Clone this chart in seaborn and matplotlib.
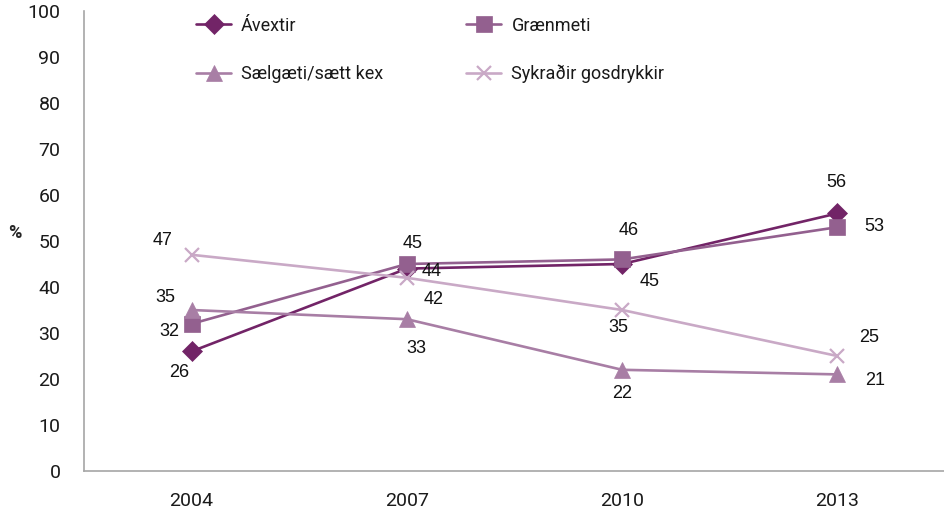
import numpy as np
import pandas as pd
import matplotlib
matplotlib.use("Agg")
import matplotlib.pyplot as plt
import seaborn as sns

# Data
years = ["2004", "2007", "2010", "2013"]
avextir = [26, 44, 45, 56]
graenmeti = [32, 45, 46, 53]
saelgaeti = [35, 33, 22, 21]
gosdrykkir = [47, 42, 35, 25]

series_names = ["Ávextir", "Grænmeti", "Sælgæti/sætt kex", "Sykraðir gosdrykkir"]
series_values = [avextir, graenmeti, saelgaeti, gosdrykkir]
colors = ["#722467", "#93608f", "#a87ea5", "#c9a9c6"]
markers = ["D", "s", "^", "x"]
marker_sizes = [10, 11, 11, 10]

# label offsets in pixels (dx, dy) per series / point
label_offsets = [
    [(-12, -21), (25, -3), (28, -17), (-1, 31)],
    [(-22, -8), (6, 21), (7, 29), (37, 1)],
    [(-26, 13), (9, -29), (0, -24), (38, -6)],
    [(-29, 14), (27, -22), (-4, -18), (32, 19)],
]

rows = []
for name, vals in zip(series_names, series_values):
    for i, v in enumerate(vals):
        rows.append({"pos": i, "year": years[i], "value": v, "series": name})
df = pd.DataFrame(rows)

sns.set_style("white")
plt.rcParams["font.family"] = ["Roboto", "DejaVu Sans"]

fig = plt.figure(figsize=(9.45, 5.13), dpi=100)
ax = fig.add_axes([84 / 945, 1 - 471 / 513, 1 - 84 / 945, (471 - 11) / 513])

for name, c, m, ms in zip(series_names, colors, markers, marker_sizes):
    sub = df[df["series"] == name]
    sns.lineplot(data=sub, x="pos", y="value", ax=ax, color=c, marker=m,
                 markersize=ms, markeredgecolor=c,
                 markeredgewidth=1.6 if m == "x" else 0.5,
                 linewidth=1.9, label=name)

for vals, offs in zip(series_values, label_offsets):
    for i, (v, (dx, dy)) in enumerate(zip(vals, offs)):
        ax.annotate(str(v), (i, v), xytext=(dx, dy), textcoords="offset pixels",
                    ha="center", va="center", fontsize=13,
                    family=["Liberation Sans", "DejaVu Sans"], color="#111111")

ax.set_xlim(-0.5, 3.5)
ax.set_ylim(0, 100)
ax.set_yticks(np.arange(0, 101, 10))
ax.set_xticks(range(len(years)))
ax.set_xticklabels(years)
ax.set_xticks(np.arange(-0.5, 3.6, 1), minor=True)
ax.tick_params(axis="x", which="major", length=0, pad=15, labelsize=14,
               labelcolor="#1a1a1a")
ax.tick_params(axis="x", which="minor", length=7, color="#a6a6a6", direction="out")
ax.tick_params(axis="y", length=7, color="#a6a6a6", direction="out", labelsize=14,
               pad=10, labelcolor="#1a1a1a")
ax.set_xlabel("")
ax.set_ylabel("%", rotation=0, fontsize=13, fontweight="bold", va="center")
ax.yaxis.set_label_coords(-0.08, 0.517)

for s in ["top", "right"]:
    ax.spines[s].set_visible(False)
for s in ["left", "bottom"]:
    ax.spines[s].set_color("#a6a6a6")
    ax.spines[s].set_linewidth(1.2)

# legend filled row by row like the reference
handles, labels = ax.get_legend_handles_labels()
order = [0, 2, 1, 3]
leg = ax.legend([handles[i] for i in order], [labels[i] for i in order],
                loc="upper left", bbox_to_anchor=(0.13, 0.988), ncol=2,
                frameon=False, fontsize=13, handlelength=1.95, handletextpad=0.55,
                columnspacing=4.6, labelspacing=1.68, borderpad=0,
                borderaxespad=0)
for t in leg.get_texts():
    t.set_color("#1a1a1a")

fig.savefig("out.png", dpi=100)
